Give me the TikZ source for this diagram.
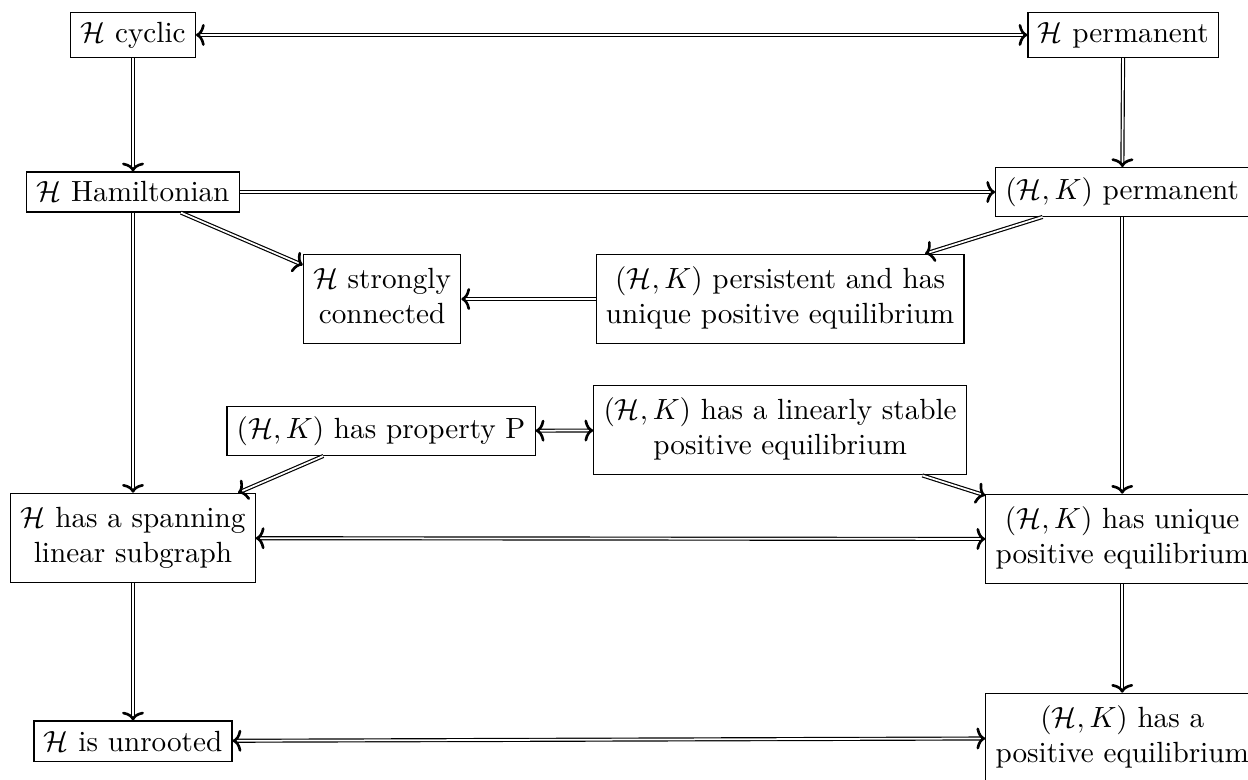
\documentclass[tikz,border=0pt]{standalone}
\usepackage{amsmath}
\usetikzlibrary{arrows.meta}

\begin{document}
\begin{tikzpicture}[>={To[line width=0.9pt, length=3pt, width=7.5pt]}, box/.style={draw, align=center}, impl/.style={double, ->}, equiv/.style={double, <->}]

\useasboundingbox (0,0) rectangle (15.02,-9.377);

\node[box] (cyc) at (1.601,-0.421) {$\mathcal{H}$ cyclic};
\node[box] (perm) at (13.518,-0.421) {$\mathcal{H}$ permanent};
\node[box] (ham) at (1.601,-2.311) {$\mathcal{H}$ Hamiltonian};
\node[box] (hkperm) at (13.506,-2.311) {$(\mathcal{H},K)$ permanent};

\node[box] (strong) at (4.598,-3.599) {$\mathcal{H}$ strongly\strut\\connected\strut};
\node[box] (persist) at (9.389,-3.599) {$(\mathcal{H},K)$ persistent and has\strut\\unique positive equilibrium\strut};

\node[box] (propP) at (4.586,-5.188) {$(\mathcal{H},K)$ has property P};
\node[box] (linstab) at (9.389,-5.176) {$(\mathcal{H},K)$ has a linearly stable\strut\\positive equilibrium\strut};

\node[box] (span) at (1.601,-6.476) {$\mathcal{H}$ has a spanning\strut\\linear subgraph\strut};
\node[box] (uniq) at (13.506,-6.488) {$(\mathcal{H},K)$ has unique\strut\\positive equilibrium\strut};

\node[box] (unrooted) at (1.601,-8.919) {$\mathcal{H}$ is unrooted};
\node[box] (poseq) at (13.506,-8.883) {$(\mathcal{H},K)$ has a\strut\\positive equilibrium\strut};

\draw[equiv] (cyc) -- (perm);
\draw[impl] (cyc) -- (ham);
\draw[impl] (perm) -- (hkperm);
\draw[impl] (ham) -- (hkperm);
\draw[impl] (ham) -- (strong);
\draw[impl] (hkperm) -- (persist);
\draw[impl] (persist) -- (strong);
\draw[impl] (ham) -- (span);
\draw[impl] (hkperm) -- (uniq);
\draw[equiv] (propP) -- (linstab);
\draw[impl] (propP) -- (span);
\draw[impl] (linstab) -- (uniq);
\draw[equiv] (span) -- (uniq);
\draw[impl] (span) -- (unrooted);
\draw[impl] (uniq) -- (poseq);
\draw[equiv] (unrooted) -- (poseq);

\end{tikzpicture}
\end{document}
